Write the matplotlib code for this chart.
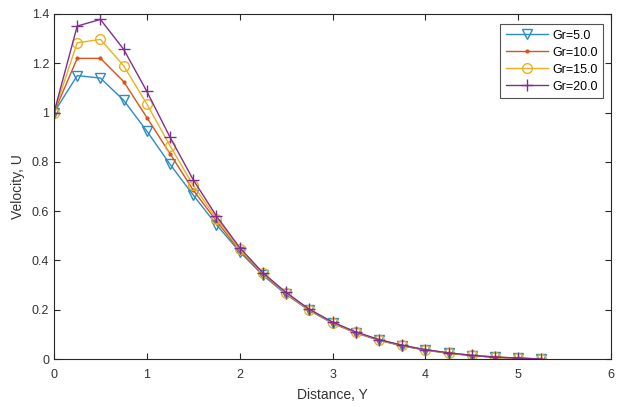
import numpy as np
import matplotlib
matplotlib.use("Agg")
import matplotlib.pyplot as plt

y_dist = [0, 0.25, 0.5, 0.75, 1.0, 1.25, 1.5, 1.75, 2.0, 2.25, 2.5, 2.75,
          3.0, 3.25, 3.5, 3.75, 4.0, 4.25, 4.5, 4.75, 5.0, 5.25]

u_gr5 = [1.0, 1.15, 1.14, 1.05, 0.925, 0.79, 0.665, 0.545, 0.435, 0.34, 0.262, 0.197,
         0.145, 0.106, 0.076, 0.053, 0.036, 0.023, 0.014, 0.007, 0.003, 0.0]
u_gr10 = [1.0, 1.22, 1.22, 1.126, 0.98, 0.833, 0.685, 0.56, 0.44, 0.345, 0.265, 0.199,
          0.147, 0.107, 0.077, 0.054, 0.037, 0.024, 0.014, 0.007, 0.003, 0.0]
u_gr15 = [1.0, 1.283, 1.297, 1.19, 1.035, 0.865, 0.705, 0.57, 0.445, 0.348, 0.267, 0.2,
          0.148, 0.108, 0.078, 0.055, 0.037, 0.024, 0.015, 0.008, 0.003, 0.0]
u_gr20 = [1.0, 1.351, 1.378, 1.257, 1.086, 0.9, 0.727, 0.58, 0.452, 0.35, 0.27, 0.202,
          0.15, 0.11, 0.079, 0.056, 0.038, 0.025, 0.015, 0.008, 0.004, 0.0]

labels = ["Gr=5.0", "Gr=10.0", "Gr=15.0", "Gr=20.0"]
colors = ["#2b8cc4", "#d95319", "#edb120", "#7e2f8e"]

plt.rcParams['font.family'] = ['Liberation Sans', 'DejaVu Sans']

fig = plt.figure(figsize=(6.17, 4.07), dpi=100)
ax = fig.add_axes([54/617, (407-359)/407, (611-54)/617, 345/407])

ax.plot(y_dist, u_gr5, color=colors[0], lw=1.0, marker='v', ms=7, mfc='none', mew=1.0, label=labels[0])
ax.plot(y_dist, u_gr10, color=colors[1], lw=1.0, marker='.', ms=4, label=labels[1])
ax.plot(y_dist, u_gr15, color=colors[2], lw=1.0, marker='o', ms=7, mfc='none', mew=1.0, label=labels[2])
ax.plot(y_dist, u_gr20, color=colors[3], lw=1.0, marker='+', ms=9, mew=1.0, label=labels[3])

ax.set_xlim(0, 6)
ax.set_ylim(0, 1.4)
ax.set_xticks(range(0, 7))
ax.set_yticks([0, 0.2, 0.4, 0.6, 0.8, 1.0, 1.2, 1.4])
ax.set_yticklabels(["0", "0.2", "0.4", "0.6", "0.8", "1", "1.2", "1.4"])
ax.tick_params(direction='in', top=True, right=True, labelsize=9, length=4, width=0.8,
               colors='#262626', labelcolor='#333333')
ax.tick_params(axis='x', pad=7)
for s in ax.spines.values():
    s.set_linewidth(0.8)
    s.set_color('#262626')

ax.set_xlabel("Distance, Y", fontsize=10, color='#333333', labelpad=5)
ax.set_ylabel("Velocity, U", fontsize=10, color='#333333', labelpad=5)

leg = ax.legend(loc='upper right', bbox_to_anchor=(0.986, 0.971), fontsize=9, frameon=True,
                fancybox=False, edgecolor='#262626', handlelength=3.4, borderpad=0.45,
                labelspacing=0.4, handletextpad=0.3, borderaxespad=0.0)
leg.get_frame().set_linewidth(0.8)

fig.savefig("out.png", dpi=100)
